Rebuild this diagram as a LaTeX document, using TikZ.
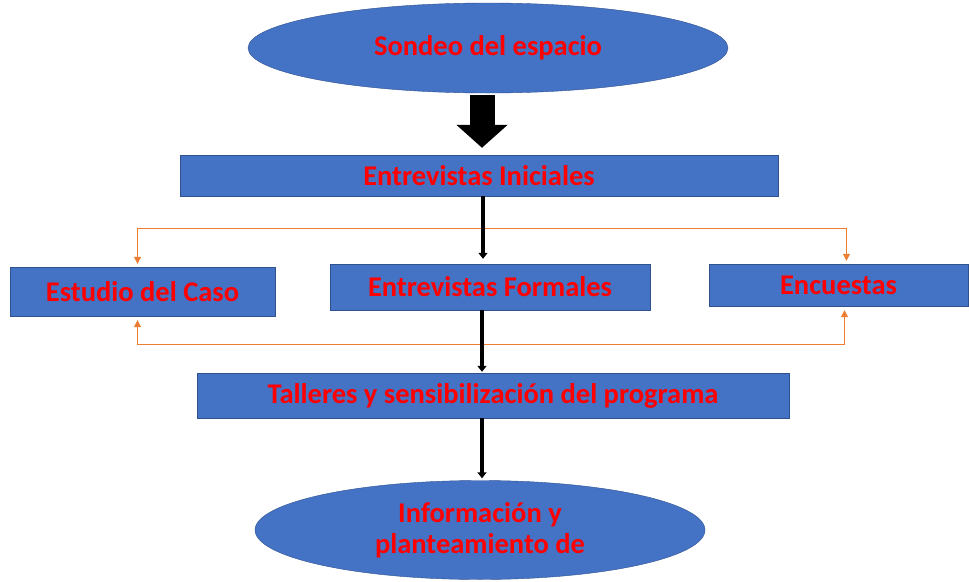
\documentclass[tikz,border=0pt]{standalone}
\usepackage{fontspec}
\setmainfont{Carlito}
\usetikzlibrary{shapes.geometric,arrows.meta}
\definecolor{boxblue}{HTML}{4472C4}
\definecolor{boxline}{HTML}{2F528F}
\definecolor{linkorange}{HTML}{ED7D31}
\begin{document}
\begin{tikzpicture}[x=1pt,y=-1pt,
	etapa/.style={rectangle,draw=boxline,fill=boxblue,text=red,inner sep=0pt,
		font=\bfseries\fontsize{28.5}{31}\selectfont},
	meta/.style={ellipse,draw=boxline,fill=boxblue,text=red,inner sep=0pt,align=center,
		font=\bfseries\fontsize{28.5}{31}\selectfont},
	flujo/.style={line width=4pt,-{Triangle[width=9pt,length=6pt]}},
	enlace/.style={draw=linkorange,line width=1pt,-{Triangle[width=7pt,length=7pt]}}]
	\useasboundingbox (0,0) rectangle (969,581);
	\node [meta,minimum width=480pt,minimum height=90pt] (0) at (488,48) {Sondeo del espacio};
	\node [etapa,minimum width=598pt,minimum height=41pt] (1) at (479,175.5) {Entrevistas Iniciales};
	\node [etapa,minimum width=265pt,minimum height=49pt] (2) at (142.5,291.5) {Estudio del Caso};
	\node [etapa,minimum width=320pt,minimum height=46pt] (3) at (490,287) {Entrevistas Formales};
	\node [etapa,minimum width=259pt,minimum height=42pt] (4) at (838.5,285) {Encuestas};
	\node [etapa,minimum width=592pt,minimum height=45pt] (5) at (493,395.5) {Talleres y sensibilización del programa};
	\node [meta,minimum width=450pt,minimum height=99pt] (6) at (480,530) {Información y\\planteamiento de};
	% orange side branches
	\coordinate (r1) at (483,228);
	\coordinate (r2) at (483,344);
	\draw[enlace,shorten >=3pt] (r1) -| ([xshift=-5pt]2.north);
	\draw[enlace,shorten >=3pt] (r1) -| ([xshift=8pt]4.north);
	\draw[enlace,shorten >=4pt] (r2) -| ([xshift=-5pt]2.south);
	\draw[enlace,shorten >=4pt] (r2) -| ([xshift=6pt]4.south);
	% main flow
	\draw[line width=25pt,-{Triangle[width=50pt,length=23pt]},shorten <=2pt,shorten >=7pt]
		([xshift=-6pt]0.south) -- ([xshift=3pt]1.north);
	\draw[flujo,shorten >=5pt] ([xshift=4pt]1.south) -- ([xshift=-7pt]3.north);
	\draw[flujo,shorten >=1pt] ([xshift=-8pt]3.south) -- ([xshift=-11pt]5.north);
	\draw[flujo,shorten >=2pt] ([xshift=-11pt]5.south) -- ([xshift=2pt]6.north);
\end{tikzpicture}
\end{document}
